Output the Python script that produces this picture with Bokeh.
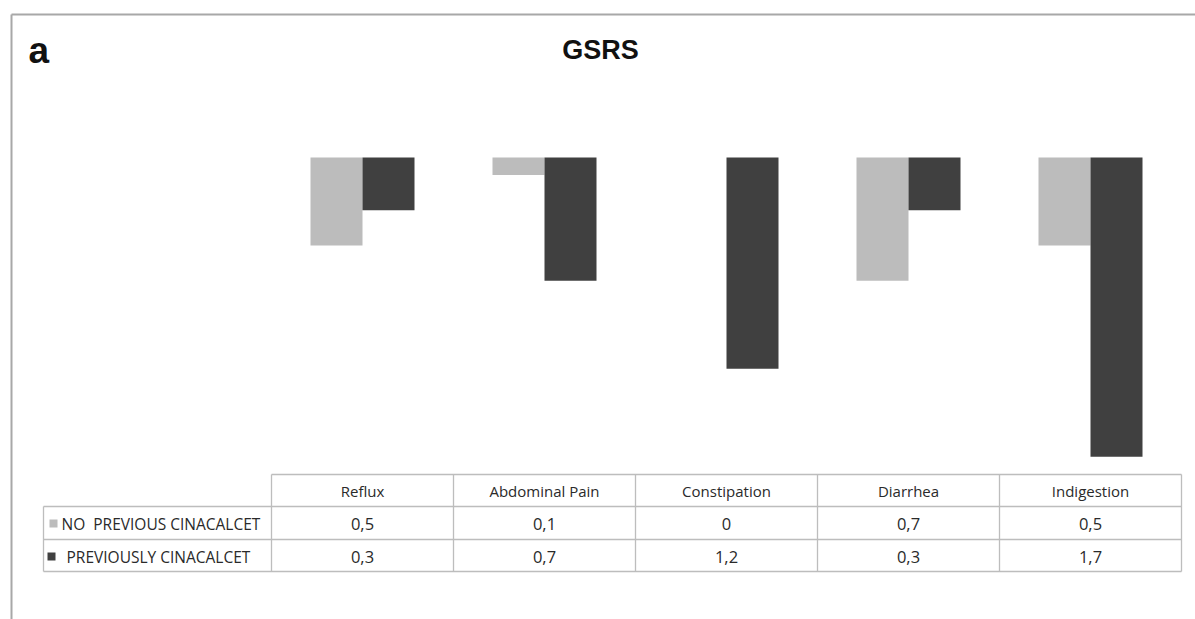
from bokeh.plotting import figure
from bokeh.models import Range1d, ColumnDataSource, Label
from bokeh.core.properties import value
from bokeh.embed import file_html
from bokeh.resources import INLINE

# ---- data ----
categories = ["Reflux", "Abdominal Pain", "Constipation", "Diarrhea", "Indigestion"]
no_previous = [0.5, 0.1, 0.0, 0.7, 0.5]
previously = [0.3, 0.7, 1.2, 0.3, 1.7]
series_names = ["NO\u00a0\u00a0PREVIOUS CINACALCET", "PREVIOUSLY CINACALCET"]
colors = ["#BCBCBC", "#404040"]

W, H = 1195, 619
# layout (pixels)
COL0, COL_W = 271.0, 182.0
Y0_PX, PX_PER_UNIT = 157.0, 176.0

def xd(px):
    return (px - COL0) / COL_W

def yd(py):
    return (py - Y0_PX) / PX_PER_UNIT

p = figure(width=W, height=H, output_backend="svg", toolbar_location=None,
           x_range=Range1d(xd(0), xd(W)), y_range=Range1d(yd(H), yd(0)),
           min_border=0, outline_line_color=None, background_fill_color="white",
           border_fill_color="white")
p.xaxis.visible = False
p.yaxis.visible = False
p.grid.visible = False

# frame
p.segment(x0=[xd(11)], y0=[yd(14)], x1=[xd(W)], y1=[yd(14)], line_color="#A8A8A8", line_width=2)
p.segment(x0=[xd(11)], y0=[yd(14)], x1=[xd(11)], y1=[yd(H)], line_color="#A8A8A8", line_width=2)

# bars
n = len(categories)
bw = 52.0 / COL_W
centers = [i + 0.5 for i in range(n)]
src = ColumnDataSource(dict(
    xl=[c - bw / 2 for c in centers], xr=[c + bw / 2 for c in centers],
    a=no_previous, b=previously, zero=[0.0] * n))
p.vbar(x="xl", width=bw, top="zero", bottom="a", source=src, fill_color=colors[0], line_color=None)
p.vbar(x="xr", width=bw, top="zero", bottom="b", source=src, fill_color=colors[1], line_color=None)

# title and panel letter
p.add_layout(Label(x=xd(600), y=yd(49), text="GSRS", text_align="center", text_baseline="middle",
                   text_font="Liberation Sans", text_font_style="bold", text_font_size="27px",
                   text_color="#111111"))
p.add_layout(Label(x=xd(28), y=yd(50), text="a", text_align="left", text_baseline="middle",
                   text_font="Liberation Sans", text_font_style="bold", text_font_size="37px",
                   text_color="#111111"))

# data table
grid_color = "#BDBDBD"
t_top, r1, r2, t_bot = 474, 506, 539, 571
left, right = 43, COL0 + n * COL_W
hx0, hy0, hx1, hy1 = [], [], [], []
hx0 += [xd(COL0)]; hx1 += [xd(right)]; hy0 += [yd(t_top)]; hy1 += [yd(t_top)]
for yy in (r1, r2, t_bot):
    hx0.append(xd(left)); hx1.append(xd(right)); hy0.append(yd(yy)); hy1.append(yd(yy))
hx0.append(xd(left)); hx1.append(xd(left)); hy0.append(yd(r1)); hy1.append(yd(t_bot))
for i in range(n + 1):
    xx = COL0 + i * COL_W
    hx0.append(xd(xx)); hx1.append(xd(xx)); hy0.append(yd(t_top)); hy1.append(yd(t_bot))
p.segment(x0=hx0, y0=hy0, x1=hx1, y1=hy1, line_color=grid_color, line_width=1.3)

tfont = value("Open Sans")
tcolor = "#2a2a2a"
p.text(x=centers, y=[yd(490)] * n, text=categories, text_align="center", text_baseline="middle",
       text_font=tfont, text_font_size="15px", text_color=tcolor)

def fmt(v):
    return ("%g" % v).replace(".", ",")

p.text(x=centers, y=[yd(523)] * n, text=[fmt(v) for v in no_previous], text_align="center",
       text_baseline="middle", text_font=tfont, text_font_size="16.5px", text_color=tcolor)
p.text(x=centers, y=[yd(556)] * n, text=[fmt(v) for v in previously], text_align="center",
       text_baseline="middle", text_font=tfont, text_font_size="16.5px", text_color=tcolor)

# row legend markers and labels
p.rect(x=[xd(53), xd(51)], y=[yd(523), yd(556)], width=8 / COL_W, height=8 / PX_PER_UNIT,
       fill_color=colors, line_color=None)
p.text(x=[xd(61), xd(66)], y=[yd(523), yd(556)], text=series_names, text_align="left",
       text_baseline="middle", text_font=tfont, text_font_size="15.5px", text_color=tcolor)

open("out.html", "w").write(file_html(p, INLINE))
